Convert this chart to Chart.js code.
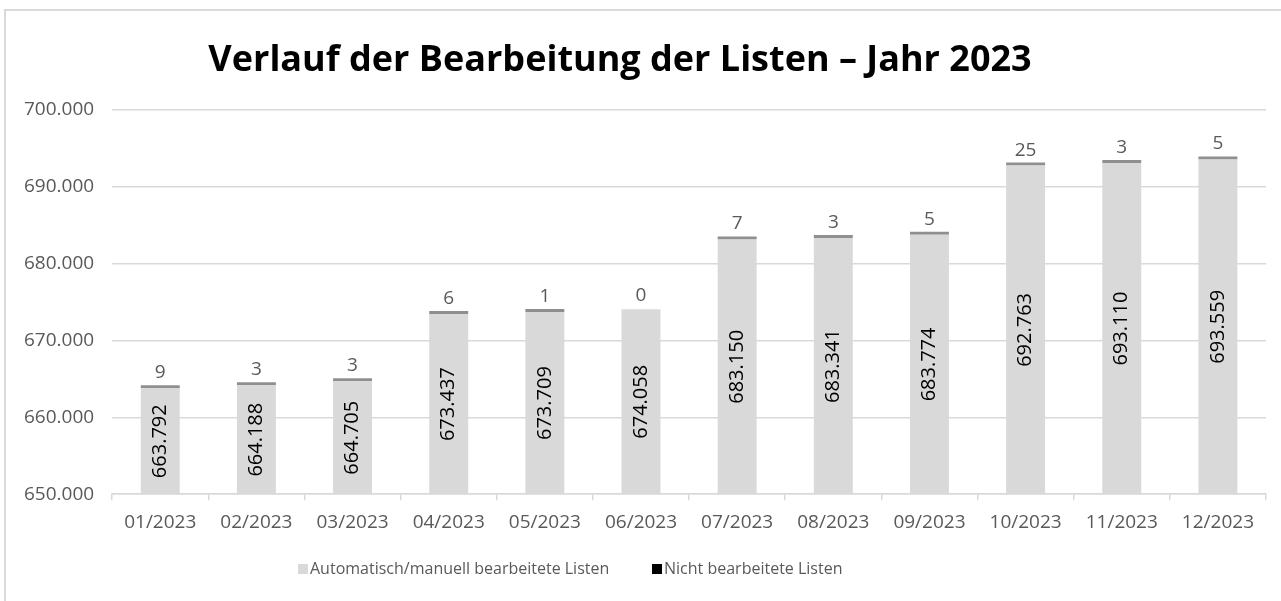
<!DOCTYPE html>
<html>
<head>
<meta charset="utf-8">
<script src="https://cdn.jsdelivr.net/npm/chart.js@4.4.1/dist/chart.umd.min.js"></script>
<style>
  html, body { margin: 0; padding: 0; background: #fff; overflow: hidden; }
  #frame { position: absolute; left: 4px; top: 9px; width: 1320px; height: 700px; border: 2px solid #d9d9d9; }
  #myChart { position: absolute; left: 0; top: 0; }
</style>
</head>
<body>
<div id="frame"></div>
<canvas id="myChart" width="1281" height="601"></canvas>
<script>
var months = ['01/2023', '02/2023', '03/2023', '04/2023', '05/2023', '06/2023',
              '07/2023', '08/2023', '09/2023', '10/2023', '11/2023', '12/2023'];
var processed = [663792, 664188, 664705, 673437, 673709, 674058,
                 683150, 683341, 683774, 692763, 693110, 693559];
var notProcessed = [9, 3, 3, 6, 1, 0, 7, 3, 5, 25, 3, 5];
var seriesNames = ['Automatisch/manuell bearbeitete Listen', 'Nicht bearbeitete Listen'];
var chartTitle = 'Verlauf der Bearbeitung der Listen \u2013 Jahr 2023';

var grey = '#595959';
var fontFamily = "'Open Sans', sans-serif";

function formatDE(v) {
    return String(v).replace(/\B(?=(\d{3})+(?!\d))/g, '.');
}

// title, value labels and legend drawn by hand (no datalabels plugin here)
var decorations = {
    id: 'decorations',
    afterDraw: function(chart) {
        var ctx = chart.ctx;
        var area = chart.chartArea;
        ctx.save();

        ctx.fillStyle = '#000';
        ctx.font = 'bold 36px ' + fontFamily;
        ctx.textAlign = 'center';
        ctx.textBaseline = 'alphabetic';
        ctx.fillText(chartTitle, 620, 71);

        var meta0 = chart.getDatasetMeta(0);
        meta0.data.forEach(function(bar, i) {
            var bottom = Math.min(bar.base, area.bottom);
            var cy = (bar.y + bottom) / 2;
            ctx.save();
            ctx.translate(bar.x, cy);
            ctx.rotate(-Math.PI / 2);
            ctx.font = '20px ' + fontFamily;
            ctx.fillStyle = '#000';
            ctx.textAlign = 'center';
            ctx.textBaseline = 'middle';
            ctx.fillText(formatDE(processed[i]), 0, 0);
            ctx.restore();
        });

        var meta1 = chart.getDatasetMeta(1);
        meta1.data.forEach(function(bar, i) {
            ctx.font = '19px ' + fontFamily;
            ctx.fillStyle = grey;
            ctx.textAlign = 'center';
            ctx.textBaseline = 'bottom';
            ctx.fillText(String(notProcessed[i]), bar.x, bar.y - 3);
        });

        var items = [
            { x: 298, color: '#d9d9d9', text: seriesNames[0] },
            { x: 652, color: '#000000', text: seriesNames[1] }
        ];
        ctx.font = '16px ' + fontFamily;
        ctx.textAlign = 'left';
        ctx.textBaseline = 'middle';
        items.forEach(function(it) {
            ctx.fillStyle = it.color;
            ctx.fillRect(it.x, 564, 10, 10);
            ctx.fillStyle = grey;
            ctx.fillText(it.text, it.x + 12, 569);
        });

        ctx.restore();
    }
};

var config = {
    type: 'bar',
    data: {
        labels: months,
        datasets: [{
            label: seriesNames[0],
            data: processed,
            backgroundColor: '#d9d9d9',
            barPercentage: 0.405,
            categoryPercentage: 1
        }, {
            label: seriesNames[1],
            data: notProcessed,
            backgroundColor: function(c) {
                return c.raw === 0 ? 'rgba(0,0,0,0)' : '#8f8f8f';
            },
            minBarLength: 3,
            barPercentage: 0.405,
            categoryPercentage: 1
        }]
    },
    options: {
        responsive: false,
        animation: false,
        layout: {
            padding: { top: 110, left: 6, right: 15, bottom: 56 }
        },
        scales: {
            x: {
                stacked: true,
                offset: true,
                grid: {
                    display: true,
                    offset: true,
                    drawOnChartArea: false,
                    tickLength: 6,
                    color: '#d9d9d9',
                    lineWidth: 1.5
                },
                border: { color: '#d9d9d9', width: 1.5 },
                ticks: {
                    color: grey,
                    padding: 11,
                    maxRotation: 0,
                    font: { family: fontFamily, size: 19 }
                }
            },
            y: {
                stacked: true,
                min: 650000,
                max: 700000,
                grid: { color: '#d9d9d9', lineWidth: 1.5, drawTicks: false },
                border: { display: false },
                ticks: {
                    stepSize: 10000,
                    color: grey,
                    padding: 18,
                    font: { family: fontFamily, size: 19 },
                    callback: function(v) { return formatDE(v); }
                }
            }
        },
        plugins: {
            legend: { display: false },
            title: { display: false },
            tooltip: { enabled: false }
        }
    },
    plugins: [decorations]
};

window.onload = function() {
    var ctx = document.getElementById('myChart').getContext('2d');
    window.myChart = new Chart(ctx, config);
};
</script>
</body>
</html>
